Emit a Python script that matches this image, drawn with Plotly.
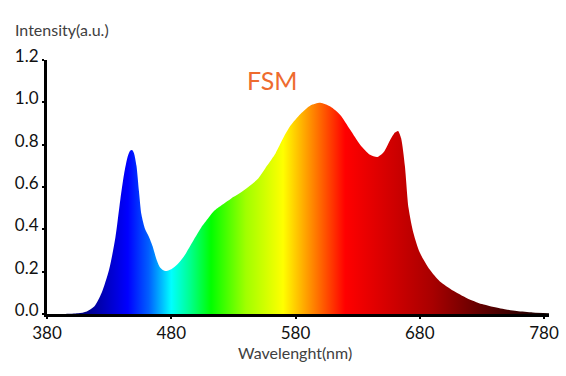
import plotly.graph_objects as go

# Spectrum data
wavelength = [380, 395, 405, 412, 418, 424, 430, 435, 439, 442, 445, 447, 448.5, 450, 452, 454, 456,
              459, 462, 465, 468, 471, 475, 480, 485, 490, 496, 504, 510, 515, 522, 528, 535, 542,
              550, 557, 564, 570, 576, 584, 592, 600, 608, 616, 624, 632, 640, 646, 651, 656, 660,
              662.5, 665, 668, 671, 675, 680, 688, 696, 707, 718, 730, 745, 758, 771, 784]
intensity = [0, 0, 0.003, 0.012, 0.035, 0.10, 0.21, 0.36, 0.54, 0.66, 0.745, 0.772, 0.775, 0.76,
             0.70, 0.58, 0.47, 0.40, 0.365, 0.32, 0.26, 0.22, 0.203, 0.212, 0.235, 0.27, 0.33,
             0.408, 0.455, 0.49, 0.52, 0.545, 0.57, 0.60, 0.64, 0.70, 0.76, 0.83, 0.89, 0.945,
             0.985, 0.998, 0.98, 0.94, 0.87, 0.80, 0.752, 0.742, 0.765, 0.82, 0.857, 0.865, 0.83,
             0.70, 0.50, 0.38, 0.29, 0.21, 0.155, 0.11, 0.075, 0.047, 0.026, 0.014, 0.007, 0.003]

x_ticks = [380, 480, 580, 680, 780]
y_ticks = [0.0, 0.2, 0.4, 0.6, 0.8, 1.0, 1.2]
y_tick_labels = ["0.0", "0.2", "0.4", "0.6", "0.8", "1.0", "1.2"]

# Wavelength -> colour stops for the horizontal gradient
grad_lambda = [380, 405, 445, 462, 480, 495, 512, 540, 570, 595, 620, 690, 730, 784]
grad_color = ["#000030", "#000070", "#0000ff", "#0060ff", "#00ffff", "#00ff90", "#00ff00",
              "#a0ff00", "#ffff00", "#ff8000", "#ff0000", "#a80000", "#600000", "#100000"]
x0, x1 = 380, 784
colorscale = [[(l - x0) / (x1 - x0), c] for l, c in zip(grad_lambda, grad_color)]

fig = go.Figure()
fig.add_trace(go.Scatter(
    x=wavelength, y=intensity,
    mode="lines",
    line=dict(width=0, shape="spline", smoothing=0.7, color="rgba(0,0,0,0)"),
    fill="tozeroy",
    fillgradient=dict(type="horizontal", colorscale=colorscale, start=x0, stop=x1),
    hoverinfo="skip",
    showlegend=False,
))

fig.update_layout(
    width=566, height=376,
    margin=dict(l=47, r=17, t=60, b=62),
    paper_bgcolor="white", plot_bgcolor="white",
    font=dict(family="Lato", size=17, color="#111111"),
    xaxis=dict(
        range=[x0, x1], tickvals=x_ticks, ticktext=[str(v) for v in x_ticks],
        showgrid=False, zeroline=False, automargin=False,
        showline=True, linecolor="black", linewidth=3,
        ticks="outside", ticklen=2, tickwidth=2, tickcolor="black",
        ticklabelstandoff=0,
    ),
    yaxis=dict(
        range=[0, 1.2], tickvals=y_ticks, ticktext=y_tick_labels,
        showgrid=False, zeroline=False, automargin=False,
        showline=True, linecolor="black", linewidth=3,
        ticks="outside", ticklen=2, tickwidth=2, tickcolor="black",
        ticklabelshift=-4,
    ),
    annotations=[
        dict(text="Intensity(a.u.)", xref="paper", yref="paper", x=-0.068, y=1.12,
             xanchor="left", yanchor="middle", showarrow=False,
             font=dict(size=16, color="#404040")),
        dict(text="Wavelenght(nm)", xref="paper", yref="paper", x=0.495, y=-0.15,
             xanchor="center", yanchor="middle", showarrow=False,
             font=dict(size=16, color="#404040")),
        dict(text="FSM", xref="paper", yref="paper", x=0.45, y=0.92,
             xanchor="center", yanchor="middle", showarrow=False,
             font=dict(size=25, color="#ee6b2e")),
    ],
)

fig.write_html("out.html", config={"displayModeBar": False},
               post_script="document.body.style.margin='0';")
